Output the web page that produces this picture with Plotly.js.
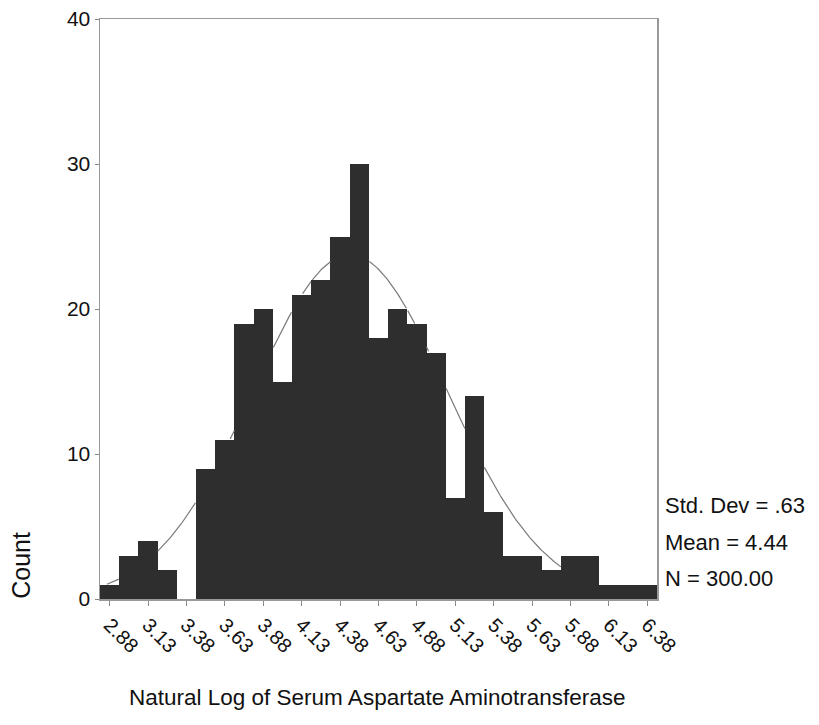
<!DOCTYPE html>
<html>
<head>
<meta charset="utf-8">
<script src="https://cdn.plot.ly/plotly-3.0.1.min.js"></script>
<style>
  html, body { margin: 0; padding: 0; background: #fff; }
  #chart { width: 819px; height: 725px; }
</style>
</head>
<body>
<div id="chart"></div>
<script>
// Histogram bins of ln(AST): bin centres and counts (bin width 0.125)
const binCenters = [2.875, 3.0, 3.125, 3.25, 3.375, 3.5, 3.625, 3.75, 3.875, 4.0,
                    4.125, 4.25, 4.375, 4.5, 4.625, 4.75, 4.875, 5.0, 5.125, 5.25,
                    5.375, 5.5, 5.625, 5.75, 5.875, 6.0, 6.125, 6.25, 6.375];
const counts = [1, 3, 4, 2, 0, 9, 11, 19, 20, 15,
                21, 22, 25, 30, 18, 20, 19, 17, 7, 14,
                6, 3, 3, 2, 3, 3, 1, 1, 1];
const binWidth = 0.125;

// Axis tick positions and their printed labels
const tickValues = [2.875, 3.125, 3.375, 3.625, 3.875, 4.125, 4.375, 4.625,
                    4.875, 5.125, 5.375, 5.625, 5.875, 6.125, 6.375];
const tickLabels = ["2.88", "3.13", "3.38", "3.63", "3.88", "4.13", "4.38", "4.63",
                    "4.88", "5.13", "5.38", "5.63", "5.88", "6.13", "6.38"];

// Summary statistics printed beside the plot
const MEAN = 4.44;
const SD = 0.63;
const N = 300;
const statLines = ["Std. Dev = .63", "Mean = 4.44", "N = 300.00"];

const xMin = binCenters[0] - binWidth / 2;
const xMax = binCenters[binCenters.length - 1] + binWidth / 2;

// Fitted normal curve scaled to counts; hidden where it runs inside a bar
const curveX = [];
const curveY = [];
const steps = 800;
for (let i = 0; i <= steps; i++) {
  const x = xMin + (xMax - xMin) * i / steps;
  const z = (x - MEAN) / SD;
  const y = N * binWidth * Math.exp(-0.5 * z * z) / (SD * Math.sqrt(2 * Math.PI));
  let k = Math.floor((x - xMin) / binWidth);
  if (k >= counts.length) k = counts.length - 1;
  curveX.push(x);
  curveY.push(y > counts[k] ? y : null);
}

const FONT = '"Liberation Sans", Arial, Helvetica, sans-serif';

const bars = {
  type: 'bar',
  x: binCenters,
  y: counts,
  width: binWidth,
  marker: { color: '#2e2e2e', line: { width: 0 } },
  hoverinfo: 'x+y'
};

const curve = {
  type: 'scatter',
  mode: 'lines',
  x: curveX,
  y: curveY,
  connectgaps: false,
  line: { color: '#7a7a7a', width: 1.2 },
  hoverinfo: 'skip'
};

const statAnnotations = statLines.map((t, i) => ({
  text: t,
  xref: 'paper', yref: 'paper',
  x: 1.0115, y: [0.161, 0.098, 0.035][i],
  xanchor: 'left', yanchor: 'middle',
  showarrow: false,
  font: { family: FONT, size: 22, color: '#111' }
}));

const layout = {
  width: 819,
  height: 725,
  margin: { l: 100, r: 162, t: 19, b: 126, pad: 0 },
  paper_bgcolor: '#ffffff',
  plot_bgcolor: '#ffffff',
  showlegend: false,
  bargap: 0,
  font: { family: FONT, color: '#111' },
  xaxis: {
    range: [xMin, xMax],
    tickmode: 'array',
    tickvals: tickValues,
    ticktext: tickLabels,
    tickangle: 45,
    ticks: 'outside',
    ticklen: 5,
    tickwidth: 1,
    tickcolor: '#888',
    tickfont: { family: FONT, size: 20, color: '#111' },
    showline: true,
    mirror: true,
    linecolor: '#999',
    linewidth: 1.5,
    showgrid: false,
    zeroline: false,
    fixedrange: true
  },
  yaxis: {
    range: [0, 40],
    tickmode: 'linear',
    tick0: 0,
    dtick: 10,
    ticks: 'outside',
    ticklen: 4,
    tickwidth: 1,
    tickcolor: '#888',
    tickfont: { family: FONT, size: 21, color: '#111' },
    showline: true,
    mirror: true,
    linecolor: '#999',
    linewidth: 1.5,
    showgrid: false,
    zeroline: false,
    fixedrange: true
  },
  annotations: [
    {
      text: 'Natural Log of Serum Aspartate Aminotransferase',
      xref: 'paper', yref: 'paper',
      x: 0.499, y: -0.169,
      xanchor: 'center', yanchor: 'middle',
      showarrow: false,
      font: { family: FONT, size: 22.5, color: '#111' }
    },
    {
      text: 'Count',
      xref: 'paper', yref: 'paper',
      x: -0.141, y: 0.058,
      xanchor: 'center', yanchor: 'middle',
      textangle: -90,
      showarrow: false,
      font: { family: FONT, size: 25, color: '#111' }
    }
  ].concat(statAnnotations)
};

Plotly.newPlot('chart', [bars, curve], layout, { displayModeBar: false, staticPlot: true });
</script>
</body>
</html>
